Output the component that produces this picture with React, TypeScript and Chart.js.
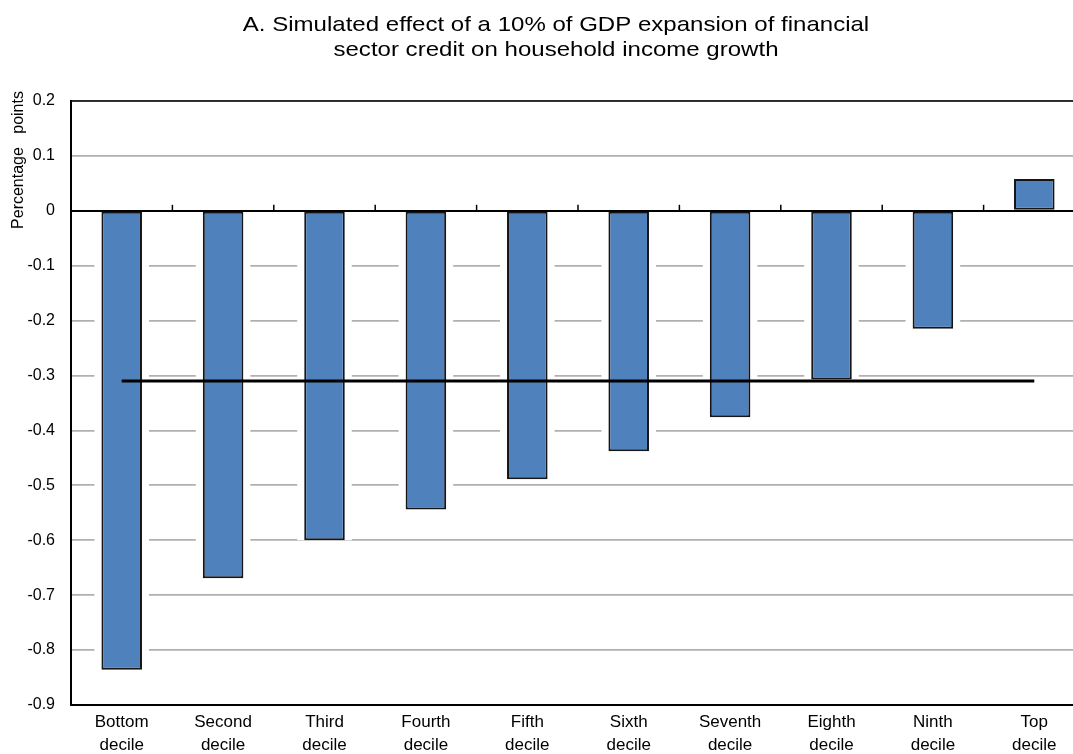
import React, { useEffect, useRef } from 'react';
import { Chart, registerables } from 'chart.js';

Chart.register(...registerables);

const titleLines = [
  'A. Simulated effect of a 10% of GDP expansion of financial',
  'sector credit on household income growth',
];
const yAxisTitle = 'Percentage   points';
const categories = [
  ['Bottom', 'decile'],
  ['Second', 'decile'],
  ['Third', 'decile'],
  ['Fourth', 'decile'],
  ['Fifth', 'decile'],
  ['Sixth', 'decile'],
  ['Seventh', 'decile'],
  ['Eighth', 'decile'],
  ['Ninth', 'decile'],
  ['Top', 'decile'],
];
const decileEffect = [-0.836, -0.669, -0.6, -0.544, -0.489, -0.438, -0.376, -0.307, -0.215, 0.058];
const averageEffect = [-0.31, -0.31, -0.31, -0.31, -0.31, -0.31, -0.31, -0.31, -0.31, -0.31];
const yMin = -0.9;
const yMax = 0.2;
const yStep = 0.1;

const FONT = '"Liberation Sans", Arial, Helvetica, sans-serif';
const BAR_INDEX = 1;

const gapPlugin = {
  id: 'gridGaps',
  beforeDatasetsDraw(chart: any) {
    const meta = chart.getDatasetMeta(BAR_INDEX);
    const ctx = chart.ctx;
    ctx.save();
    ctx.fillStyle = '#ffffff';
    meta.data.forEach((bar: any) => {
      const props = bar.getProps(['x', 'y', 'base', 'width'], true);
      const gap = 7;
      const left = props.x - props.width / 2 - gap;
      const w = props.width + gap * 2;
      if (props.y > props.base) {
        ctx.fillRect(left, props.base + 2, w, props.y - props.base - 2);
      } else {
        ctx.fillRect(left, props.y, w, props.base - props.y - 2);
      }
    });
    ctx.restore();
  },
};

const decorPlugin = {
  id: 'decor',
  afterDatasetsDraw(chart: any) {
    const ctx = chart.ctx;
    const xs = chart.scales.x;
    const ys = chart.scales.y;
    const area = chart.chartArea;
    const y0 = ys.getPixelForValue(0);
    ctx.save();
    ctx.strokeStyle = '#000';
    ctx.lineWidth = 1.5;
    for (let i = 1; i < categories.length; i++) {
      const x = (xs.getPixelForValue(i - 1) + xs.getPixelForValue(i)) / 2;
      ctx.beginPath();
      ctx.moveTo(x, y0);
      ctx.lineTo(x, y0 - 6);
      ctx.stroke();
    }
    ctx.strokeRect(area.left, area.top, area.right - area.left, area.bottom - area.top);
    ctx.restore();
  },
  afterDraw(chart: any) {
    const ctx = chart.ctx;
    ctx.save();
    ctx.fillStyle = '#000';
    // title
    ctx.font = `21px ${FONT}`;
    ctx.textAlign = 'center';
    ctx.textBaseline = 'middle';
    const sx = 1.145;
    ctx.save();
    ctx.translate(556, 0);
    ctx.scale(sx, 1);
    ctx.fillText(titleLines[0], 0, 25);
    ctx.fillText(titleLines[1], 0, 50);
    ctx.restore();
    // y axis title
    ctx.translate(18.5, 160);
    ctx.rotate(-Math.PI / 2);
    ctx.font = `16px ${FONT}`;
    ctx.fillText(yAxisTitle, 0, 0);
    ctx.restore();
  },
};

export default function App() {
  const ref = useRef<HTMLCanvasElement>(null);
  useEffect(() => {
    document.body.style.margin = '0';
    const chart = new Chart(ref.current as HTMLCanvasElement, {
      type: 'bar',
      data: {
        labels: categories as any,
        datasets: [
          {
            type: 'line',
            data: averageEffect,
            borderColor: '#000',
            borderWidth: 3,
            pointRadius: 0,
            fill: false,
            order: 0,
          } as any,
          {
            type: 'bar',
            data: decileEffect,
            backgroundColor: '#4f81bd',
            borderColor: '#151515',
            borderWidth: 2,
            borderSkipped: false,
            barPercentage: 0.4,
            categoryPercentage: 1,
            order: 1,
          } as any,
        ],
      },
      options: {
        responsive: false,
        animation: false,
        layout: { padding: { left: 0, right: 1, top: 101, bottom: 0 } },
        plugins: {
          legend: { display: false },
          tooltip: { enabled: false },
          title: { display: false },
        },
        scales: {
          x: {
            grid: { display: false, drawTicks: false },
            border: { display: true, color: '#000', width: 2 },
            ticks: {
              color: '#000',
              font: { family: FONT, size: 17, lineHeight: 1.35 },
              padding: 6,
              maxRotation: 0,
              autoSkip: false,
            },
            afterFit(scale: any) {
              scale.height = 49;
            },
          },
          y: {
            min: yMin,
            max: yMax,
            grid: {
              drawTicks: false,
              color: (c: any) => (Math.abs(c.tick.value) < 1e-9 ? '#000' : '#b0b0b0'),
              lineWidth: (c: any) => (Math.abs(c.tick.value) < 1e-9 ? 2 : 1.8),
            },
            border: { display: true, color: '#000', width: 2 },
            ticks: {
              stepSize: yStep,
              color: '#000',
              font: { family: FONT, size: 16 },
              padding: 16,
              callback: (v: any) => String(Math.round(Number(v) * 10) / 10),
            },
            afterFit(scale: any) {
              scale.width = 71;
            },
          },
        },
      },
      plugins: [gapPlugin, decorPlugin],
    });
    return () => chart.destroy();
  }, []);
  return (
    <div style={{ width: 1073, height: 754, overflow: 'hidden', position: 'relative' }}>
      <canvas ref={ref} width={1086} height={754} style={{ display: 'block' }} />
    </div>
  );
}
